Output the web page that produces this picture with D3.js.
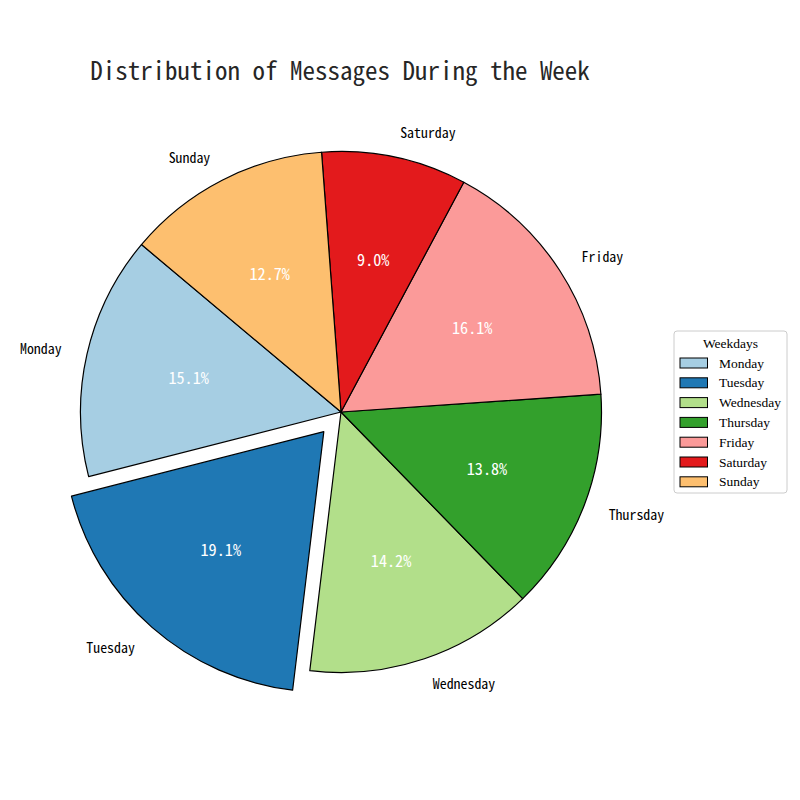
<!DOCTYPE html>
<html>
<head>
<meta charset="utf-8">
<script src="https://cdn.jsdelivr.net/npm/d3@7"></script>
<style>
  html, body { margin: 0; padding: 0; background: #fff; }
  svg { display: block; }
</style>
</head>
<body>
<svg id="chart" width="800" height="800"></svg>
<script>
// ---- data ----
const days = ["Monday", "Tuesday", "Wednesday", "Thursday", "Friday", "Saturday", "Sunday"];
const shares = [15.1, 19.1, 14.2, 13.8, 16.1, 9.0, 12.7];
const explodeAmt = [0, 0.1, 0, 0, 0, 0, 0];
const colors = ["#a6cee3", "#1f78b4", "#b2df8a", "#33a02c", "#fb9a99", "#e31a1c", "#fdbf6f"];
const titleText = "Distribution of Messages During the Week";
const legendTitle = "Weekdays";

// ---- layout ----
const cx = 341, cy = 412, R = 260.5;
const startDeg = 140; // matplotlib-style start angle, counterclockwise
const monoFont = "'Noto Sans Mono CJK SC', 'Noto Sans Mono CJK JP', 'DejaVu Sans Mono', monospace";
const serifFont = "'Liberation Serif', 'DejaVu Serif', serif";

const svg = d3.select("#chart");

// Title (probe font width to keep half-width metric)
const title = svg.append("text")
  .attr("x", 340).attr("y", 69)
  .attr("text-anchor", "middle")
  .attr("dominant-baseline", "central")
  .style("font-family", monoFont)
  .style("font-size", "25px")
  .attr("fill", "#262626")
  .text(titleText);
const measured = title.node().getComputedTextLength();
const s = measured > 0 ? 500 / measured : 1;
title.style("font-size", (25 * s) + "px");
const labelSize = 13.9 * s, pctSize = 16.2 * s;

const toRad = Math.PI / 180;
const pie = d3.pie().sort(null).value(d => d)
  .startAngle((90 - startDeg) * toRad)
  .endAngle((90 - startDeg - 360) * toRad);
const arcs = pie(shares);
const arcGen = d3.arc().innerRadius(0).outerRadius(R);

const g = svg.append("g").attr("transform", `translate(${cx},${cy})`);

arcs.forEach((a, i) => {
  const m = (a.startAngle + a.endAngle) / 2;
  const ox = explodeAmt[i] * R * Math.sin(m);
  const oy = -explodeAmt[i] * R * Math.cos(m);
  const wg = g.append("g").attr("transform", `translate(${ox},${oy})`);
  const p0 = Math.min(a.startAngle, a.endAngle), p1 = Math.max(a.startAngle, a.endAngle);
  wg.append("path")
    .attr("d", arcGen({startAngle: p0, endAngle: p1}))
    .attr("fill", colors[i])
    .attr("stroke", "#000")
    .attr("stroke-width", 1.2)
    .attr("stroke-linejoin", "round");
  // outer label
  const lx = 1.1 * R * Math.sin(m), ly = -1.1 * R * Math.cos(m);
  wg.append("text")
    .attr("x", lx).attr("y", ly)
    .attr("text-anchor", lx > 0 ? "start" : "end")
    .attr("dominant-baseline", "central")
    .style("font-family", monoFont)
    .style("font-size", labelSize + "px")
    .attr("fill", "#000")
    .text(days[i]);
  // pct label
  const px = 0.6 * R * Math.sin(m), py = -0.6 * R * Math.cos(m);
  wg.append("text")
    .attr("x", px).attr("y", py)
    .attr("text-anchor", "middle")
    .attr("dominant-baseline", "central")
    .style("font-family", monoFont)
    .style("font-size", pctSize + "px")
    .attr("fill", "#fff")
    .text(shares[i].toFixed(1) + "%");
});

// Legend
const lg = svg.append("g").attr("transform", "translate(674,331)");
lg.append("rect")
  .attr("x", 0).attr("y", 0).attr("width", 113).attr("height", 162)
  .attr("rx", 3).attr("ry", 3)
  .attr("fill", "#fff").attr("fill-opacity", 0.8)
  .attr("stroke", "#cccccc").attr("stroke-width", 1);
lg.append("text")
  .attr("x", 56.5).attr("y", 12)
  .attr("text-anchor", "middle")
  .attr("dominant-baseline", "central")
  .style("font-family", serifFont)
  .style("font-size", "13.5px")
  .attr("fill", "#000")
  .text(legendTitle);
const ly = d3.scaleLinear().domain([0, 1]).range([32, 51.8]);
days.forEach((d, i) => {
  lg.append("rect")
    .attr("x", 6).attr("y", ly(i) - 5).attr("width", 27.5).attr("height", 10)
    .attr("fill", colors[i]).attr("stroke", "#000").attr("stroke-width", 1);
  lg.append("text")
    .attr("x", 45).attr("y", ly(i))
    .attr("dominant-baseline", "central")
    .style("font-family", serifFont)
    .style("font-size", "13.5px")
    .attr("fill", "#000")
    .text(d);
});
</script>
</body>
</html>
